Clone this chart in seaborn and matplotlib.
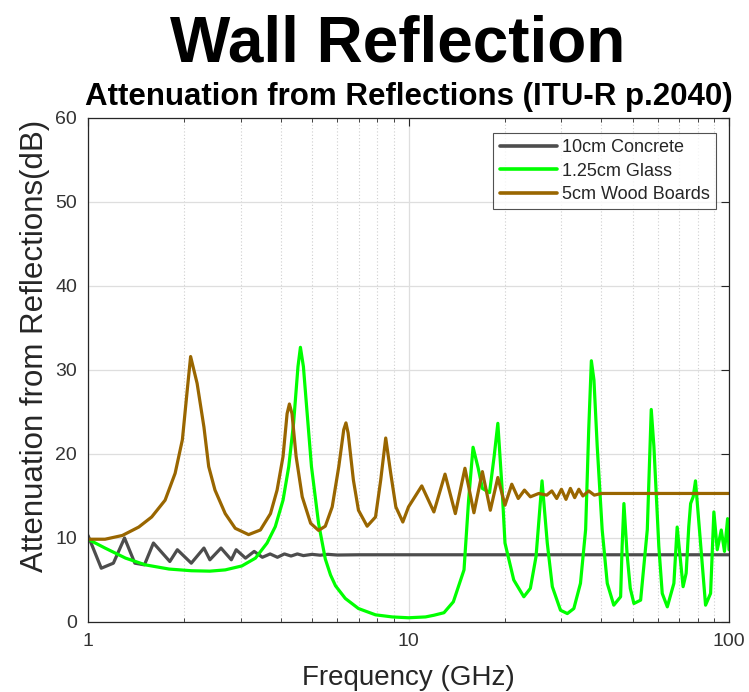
import numpy as np
import pandas as pd
import matplotlib
matplotlib.use("Agg")
import matplotlib.pyplot as plt
import seaborn as sns
from matplotlib.ticker import LogLocator, FixedLocator, FixedFormatter, NullFormatter

# ---------------- data ----------------
materials = ["10cm Concrete", "1.25cm Glass", "5cm Wood Boards"]
colors = ["#4d4d4d", "#00ff00", "#996600"]

concrete_f = [1.0, 1.1, 1.2, 1.3, 1.4, 1.5, 1.6, 1.8, 1.9, 2.1, 2.3, 2.4, 2.6, 2.8,
              2.9, 3.1, 3.3, 3.5, 3.7, 3.9, 4.1, 4.3, 4.5, 4.7, 5.0, 5.3, 5.6, 6.0,
              7.0, 100.0]
concrete_db = [10.3, 6.4, 7.0, 10.0, 7.0, 6.8, 9.4, 7.2, 8.6, 7.0, 8.8, 7.4, 8.8, 7.4,
               8.6, 7.6, 8.4, 7.7, 8.1, 7.7, 8.1, 7.85, 8.1, 7.9, 8.05, 7.95, 8.05, 7.97,
               8.0, 8.0]

glass_f = [1.0, 1.13, 1.31, 1.51, 1.79, 2.1, 2.4, 2.68, 3.02, 3.33, 3.62, 3.84, 4.06,
           4.23, 4.38, 4.52, 4.60, 4.70, 4.81, 4.98, 5.24, 5.5, 5.71, 5.92, 6.35, 6.98,
           7.89, 8.9, 10.0, 11.3, 12.0, 12.9, 13.8, 14.9, 15.4, 15.9, 16.5, 17.0, 17.9,
           18.5, 19.0, 19.6, 20.0, 21.3, 22.9, 24.0, 25.0, 26.1, 27.1, 28.1, 29.8, 31.3,
           32.8, 34.4, 35.7, 36.5, 37.2, 37.9, 38.8, 40.2, 41.7, 43.7, 45.9, 46.4, 47.0,
           48.1, 49.2, 50.5, 53.0, 55.6, 57.2, 58.3, 60.4, 61.9, 64.2, 67.3, 68.9, 71.9,
           73.5, 74.9, 75.9, 77.3, 78.6, 81.5, 84.5, 87.6, 89.7, 91.9, 94.6, 96.8, 99.0,
           100.0]
glass_db = [9.85, 8.8, 7.6, 6.8, 6.3, 6.1, 6.05, 6.2, 6.67, 7.6, 9.4, 11.35, 14.5,
            18.5, 23.7, 30.4, 32.7, 30.4, 25.6, 18.5, 11.75, 7.5, 5.6, 4.3, 2.8, 1.6,
            0.85, 0.6, 0.5, 0.6, 0.8, 1.1, 2.4, 6.2, 14.5, 20.8, 18.3, 15.9, 15.4,
            19.7, 23.65, 15.7, 9.4, 5.0, 3.0, 4.0, 7.8, 16.8, 9.4, 4.2, 1.4, 1.0,
            1.6, 4.6, 11.0, 22.9, 31.1, 28.8, 20.9, 11.0, 4.6, 2.0, 3.0, 9.0, 14.1,
            8.0, 4.0, 2.2, 2.6, 11.0, 25.3, 20.9, 9.0, 3.4, 1.8, 4.6, 11.3, 4.2,
            5.8, 11.35, 14.1, 14.9, 16.8, 9.4, 2.0, 3.4, 13.1, 8.6, 10.95, 8.4, 12.3,
            8.6]

wood_f = [1.0, 1.13, 1.28, 1.44, 1.58, 1.74, 1.87, 1.97, 2.04, 2.09, 2.19, 2.30, 2.38,
          2.49, 2.68, 2.88, 3.17, 3.45, 3.71, 3.89, 4.06, 4.18, 4.25, 4.33, 4.46, 4.66,
          4.95, 5.24, 5.5, 5.78, 6.06, 6.28, 6.38, 6.48, 6.73, 6.98, 7.43, 7.89, 8.19,
          8.49, 8.80, 9.13, 9.6, 10.0, 11.0, 12.0, 13.0, 14.0, 15.0, 16.0, 17.0, 18.0,
          19.0, 20.0, 21.0, 22.0, 23.0, 24.0, 25.5, 27.0, 28.0, 29.0, 30.0, 31.0, 32.0,
          33.0, 34.0, 35.0, 36.5, 38.0, 40.0, 45.0, 50.0, 60.0, 70.0, 100.0]
wood_db = [9.85, 9.85, 10.3, 11.3, 12.5, 14.5, 17.7, 21.7, 27.6, 31.6, 28.4, 23.2, 18.5,
           15.7, 12.9, 11.15, 10.4, 10.95, 12.9, 15.7, 19.7, 24.8, 25.95, 24.8, 19.7, 14.9,
           11.75, 10.9, 11.4, 13.7, 18.5, 22.9, 23.7, 22.5, 16.9, 13.3, 11.4, 12.5, 16.9,
           21.9, 17.7, 13.7, 11.9, 13.7, 16.2, 13.1, 17.6, 12.9, 18.3, 13.0, 17.9, 13.3,
           17.2, 13.9, 16.4, 14.7, 15.7, 14.9, 15.3, 15.1, 15.6, 14.7, 15.8, 14.6, 15.9,
           14.8, 15.8, 15.0, 15.6, 15.1, 15.3, 15.3, 15.3, 15.3, 15.3, 15.3]

y_ticks = [0, 10, 20, 30, 40, 50, 60]
x_ticks = [1, 10, 100]
x_tick_labels = ["1", "10", "100"]

# ---------------- build table ----------------
frames = []
for name, f, d in zip(materials, [concrete_f, glass_f, wood_f],
                      [concrete_db, glass_db, wood_db]):
    frames.append(pd.DataFrame({"Frequency": f, "Attenuation": d, "Material": name}))
df = pd.concat(frames, ignore_index=True)

# ---------------- style ----------------
sns.set_style("white")
plt.rcParams["font.family"] = ["Liberation Sans", "DejaVu Sans"]

fig = plt.figure(figsize=(7.49, 6.92), dpi=100)
ax = fig.add_axes([0.1175, 0.1012, 0.8558, 0.7283])

sns.lineplot(data=df, x="Frequency", y="Attenuation", hue="Material",
             hue_order=materials, palette=colors, estimator=None, sort=False,
             linewidth=2.3, ax=ax)

ax.set_xscale("log")
ax.set_xlim(1, 100)
ax.set_ylim(0, 60)
ax.xaxis.set_major_locator(FixedLocator(x_ticks))
ax.xaxis.set_major_formatter(FixedFormatter(x_tick_labels))
ax.xaxis.set_minor_locator(LogLocator(base=10, subs=np.arange(2, 10)))
ax.xaxis.set_minor_formatter(NullFormatter())
ax.set_yticks(y_ticks)

tick_col = "#262626"
ax.tick_params(axis="both", which="major", direction="in", length=6, width=0.8,
               colors=tick_col, labelsize=14, top=True, right=True, pad=8)
ax.tick_params(axis="x", which="minor", direction="in", length=3, width=0.6,
               colors=tick_col, top=True, bottom=True)
for lab in ax.get_xticklabels() + ax.get_yticklabels():
    lab.set_color("#333333")

for s in ax.spines.values():
    s.set_color(tick_col)
    s.set_linewidth(0.9)

ax.grid(True, which="major", axis="both", color="#dedede", linewidth=0.9, linestyle="-")
ax.grid(True, which="minor", axis="x", color="#cfcfcf", linewidth=0.8, linestyle=(0, (1, 2)))
ax.set_axisbelow(True)

ax.set_xlabel("Frequency (GHz)", fontsize=20, color="#262626", labelpad=11)
ax.set_ylabel("Attenuation from Reflections(dB)", fontsize=22.5, color="#262626")
ax.yaxis.set_label_coords(-0.059, 0.548)
ax.set_title("Attenuation from Reflections (ITU-R p.2040)", fontsize=22.5,
             fontweight="bold", pad=9, color="black")
fig.text(0.531, 1 - 62 / 692, "Wall Reflection", fontsize=46, fontweight="bold",
         ha="center", va="baseline", color="black")

handles, labels = ax.get_legend_handles_labels()
leg = ax.legend(handles, labels, loc="upper right", bbox_to_anchor=(0.98, 0.97),
                fontsize=13, frameon=True, fancybox=False, edgecolor="#262626",
                handlelength=3.2, handletextpad=0.25, borderpad=0.35,
                labelspacing=0.35, borderaxespad=0.0)
leg.get_frame().set_linewidth(0.8)
for lh in leg.get_lines():
    lh.set_linewidth(2.6)

fig.savefig("out.png", dpi=100)
